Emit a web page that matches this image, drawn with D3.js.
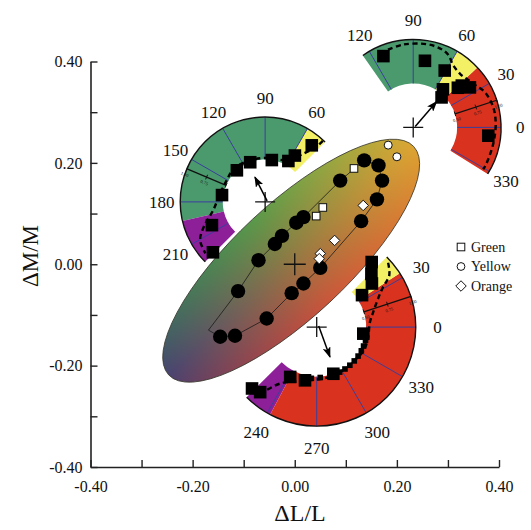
<!DOCTYPE html>
<html>
<head>
<meta charset="utf-8">
<script src="https://cdn.jsdelivr.net/npm/d3@7"></script>
<style>
  body { margin: 0; background: #fff; }
  svg { display: block; }
  text { font-family: "Liberation Serif", "DejaVu Serif", serif; fill: #111; }
</style>
</head>
<body>
<svg id="chart" width="531" height="530"></svg>
<script>
// ---------- axes ----------
const axisTicks  = [-0.4, -0.3, -0.2, -0.1, 0, 0.1, 0.2, 0.3, 0.4];
const axisLabels = ["-0.40", "", "-0.20", "", "0.00", "", "0.20", "", "0.40"];

// ---------- colour-space ellipse (ΔL/L, ΔM/M units) ----------
const ellipseCenter = [-0.007, 0.007];
const ellipseAxes   = [0.328, 0.111];
const ellipseTilt   = 43;   // degrees

// ---------- matches inside the ellipse ----------
// black discs, listed in the order the contour passes through them
const discL = [-0.146, -0.117, -0.055, -0.006, 0.017, 0.050, 0.130, 0.161, 0.171, 0.164, 0.136, 0.089, 0.017, 0.003, -0.025, -0.039, -0.071, -0.111];
const discM = [-0.143, -0.141, -0.107, -0.057, -0.038, -0.007, 0.085, 0.128, 0.165, 0.195, 0.205, 0.165, 0.093, 0.082, 0.056, 0.040, 0.008, -0.053];
const contourCorner = [-0.169, -0.130];

const greenL  = [0.116, 0.055, 0.042];
const greenM  = [0.189, 0.112, 0.095];
const yellowL = [0.183, 0.200];
const yellowM = [0.235, 0.212];
const orangeL = [0.134, 0.078, 0.050, 0.048];
const orangeM = [0.116, 0.047, 0.021, 0.011];

// ---------- hue wheels ----------
const wheelL      = [-0.058, 0.232, 0.043];
const wheelM      = [0.123, 0.270, -0.124];
const wheelRadius = [0.166, 0.172, 0.194];   // outer radius, ΔL/L units
const wheelFrom   = [45, -32, -135];         // hue angle, degrees
const wheelTo     = [225, 125, 45];
const wheelScaleBar = [157, 18, 18];
const wheelShiftL = [-0.020, 0.046, 0.026];
const wheelShiftM = [0.049, 0.051, -0.059];

// hue bands: wheel index, from, to, hue name
const bandWheel = [0, 0, 0, 1, 1, 1, 2, 2, 2];
const bandFrom  = [45, 60, 193, -32, 43, 60, -135, -118, 33];
const bandTo    = [60, 193, 225, 43, 60, 125, -118, 33, 45];
const bandHue   = ["yellow", "green", "purple", "red", "yellow", "green", "purple", "red", "yellow"];

// settings per wheel: hue angle (deg) and radius as a fraction of the outer radius
const settingAng = [
  [50.5, 57.3, 60.4, 80.9, 110.6, 131.8, 171, 203.6, 224],
  [112.7, 80, 61, 52, 46.6, 41.6, 40.7, 35.2, -6.3],
  [49.8, 44.2, 38.3, 35.2, -8, -70.4, -102.4, -118, -131, -136.5]
];
const settingRad = [
  [0.865, 0.65, 0.555, 0.50, 0.50, 0.50, 0.515, 0.685, 0.856],
  [0.88, 0.77, 0.74, 0.55, 0.47, 0.68, 0.73, 0.79, 0.86],
  [0.86, 0.77, 0.71, 0.56, 0.475, 0.50, 0.55, 0.57, 0.87, 0.90]
];
const smallLowerAng = [-15, -22, -28, -35, -42, -49, -56, -63, -74, -86, -96];
const smallLowerRad = [0.51, 0.51, 0.51, 0.51, 0.51, 0.51, 0.51, 0.51, 0.51, 0.51, 0.52];

// model curves per wheel
const modelAng = [
  [46.6, 47.2, 53.1, 62, 75, 87.8, 109.8, 133.5, 150.5, 169.4, 189, 202, 210.5, 220.7],
  [108, 96.8, 80.9, 71.4, 64.5, 57, 48, 40, 33.3, 26, 14, 2.4, -11.7, -26.5, -31],
  [42, 35.5, 31, 24.7, 14.8, 5.4, -12.7, -26.6, -41, -55.8, -78.7, -104, -123, -129.4]
];
const modelRad = [
  [0.99, 0.88, 0.69, 0.56, 0.52, 0.52, 0.52, 0.54, 0.52, 0.54, 0.62, 0.78, 0.89, 0.93],
  [0.93, 0.95, 0.96, 0.95, 0.92, 0.84, 0.81, 0.83, 0.86, 0.91, 0.94, 0.94, 0.93, 0.93, 0.93],
  [0.97, 0.90, 0.78, 0.68, 0.59, 0.54, 0.53, 0.53, 0.51, 0.51, 0.52, 0.56, 0.68, 0.85]
];
const scaleBarMarks = [0.5, 0.75, 1.0];

const legendNames = ["Green", "Yellow", "Orange"];

// ---------- drawing ----------
const svg = d3.select("#chart");
const x = d3.scaleLinear().domain([-0.4, 0.4]).range([90.5, 499]);
const y = d3.scaleLinear().domain([-0.4, 0.4]).range([467, 61.5]);
const pxPerUnit = x(1) - x(0);
const rad = d => d * Math.PI / 180;
const hueColor = d3.scaleOrdinal()
  .domain(["green", "yellow", "red", "purple"])
  .range(["#4a9a6e", "#f4f066", "#d9321f", "#8d1f98"]);

const defs = svg.append("defs");
defs.append("marker")
  .attr("id", "head").attr("markerUnits", "userSpaceOnUse")
  .attr("markerWidth", 11).attr("markerHeight", 8)
  .attr("refX", 10).attr("refY", 4).attr("orient", "auto")
  .append("path").attr("d", "M0,0 L11,4 L0,8 L2.5,4 z").attr("fill", "#000");

// axes
const fmt = d => axisLabels[axisTicks.findIndex(t => Math.abs(t - d) < 1e-9)];
const gx = svg.append("g").attr("transform", `translate(0,${y(-0.4)})`)
  .call(d3.axisBottom(x).tickValues(axisTicks).tickFormat(fmt)
    .tickSizeInner(-7).tickSizeOuter(0).tickPadding(14));
const gy = svg.append("g").attr("transform", `translate(${x(-0.4)},0)`)
  .call(d3.axisLeft(y).tickValues(axisTicks).tickFormat(fmt)
    .tickSizeInner(-7).tickSizeOuter(0).tickPadding(8));
[gx, gy].forEach(g => {
  g.selectAll("path.domain").attr("stroke", "#222").attr("stroke-width", 1.6);
  g.selectAll(".tick line").attr("stroke", "#222").attr("stroke-width", 1.4);
  g.selectAll(".tick text").style("font-family", '"Liberation Serif", serif')
    .style("font-size", "16px").attr("fill", "#111");
});

svg.append("text").attr("x", 300).attr("y", 521).attr("text-anchor", "middle")
  .style("font-size", "24px").text("ΔL/L");
svg.append("text").attr("transform", "translate(38,256) rotate(-90)")
  .attr("text-anchor", "middle").style("font-size", "23px").text("ΔM/M");

// ellipse with colour gradient
const ecx = x(ellipseCenter[0]), ecy = y(ellipseCenter[1]);
const erx = ellipseAxes[0] * pxPerUnit, ery = ellipseAxes[1] * pxPerUnit;
defs.append("clipPath").attr("id", "ellClip").append("ellipse")
  .attr("cx", ecx).attr("cy", ecy).attr("rx", erx).attr("ry", ery)
  .attr("transform", `rotate(${-ellipseTilt},${ecx},${ecy})`);

const grid = [
  ["#2d6a62", "#4a4470", "#7c3356"],
  ["#58994a", "#927844", "#cc553a"],
  ["#b8b83c", "#dca432", "#e8842e"]
].map(r => r.map(c => d3.rgb(c)));
function shade(u, v) {
  const fu = (Math.max(-1, Math.min(1, u)) + 1), fv = (Math.max(-1, Math.min(1, v)) + 1);
  const i = Math.min(1, Math.floor(fu)), j = Math.min(1, Math.floor(fv));
  const tu = fu - i, tv = fv - j;
  const mix = k => (grid[i][j][k] * (1 - tu) + grid[i + 1][j][k] * tu) * (1 - tv) +
                   (grid[i][j + 1][k] * (1 - tu) + grid[i + 1][j + 1][k] * tu) * tv;
  return [mix("r"), mix("g"), mix("b")];
}
const bx0 = Math.floor(ecx - erx), by0 = Math.floor(ecy - erx);
const bw = Math.ceil(2 * erx), bh = Math.ceil(2 * erx);
const canvas = document.createElement("canvas");
canvas.width = bw; canvas.height = bh;
const ctx = canvas.getContext("2d");
const img = ctx.createImageData(bw, bh);
const ct = Math.cos(rad(ellipseTilt)), st = Math.sin(rad(ellipseTilt));
for (let py = 0; py < bh; py++) {
  for (let px = 0; px < bw; px++) {
    const dx = bx0 + px + 0.5 - ecx, dy = by0 + py + 0.5 - ecy;
    const u = (dx * ct - dy * st) / erx;
    const v = (dx * st + dy * ct) / ery;
    const c = shade(u, v);
    const k = (py * bw + px) * 4;
    img.data[k] = c[0]; img.data[k + 1] = c[1]; img.data[k + 2] = c[2]; img.data[k + 3] = 255;
  }
}
ctx.putImageData(img, 0, 0);
svg.append("image").attr("href", canvas.toDataURL())
  .attr("x", bx0).attr("y", by0).attr("width", bw).attr("height", bh)
  .attr("clip-path", "url(#ellClip)");
svg.append("ellipse").attr("cx", ecx).attr("cy", ecy).attr("rx", erx).attr("ry", ery)
  .attr("transform", `rotate(${-ellipseTilt},${ecx},${ecy})`)
  .attr("fill", "none").attr("stroke", "#3a3a30").attr("stroke-width", 0.8);

// crosses
function cross(g, cx, cy, h) {
  g.append("path").attr("d", `M${cx - h},${cy}H${cx + h}M${cx},${cy - h}V${cy + h}`)
    .attr("stroke", "#111").attr("stroke-width", 1.3).attr("fill", "none");
}

// wheels
wheelL.forEach((wl, w) => {
  const cx = x(wl), cy = y(wheelM[w]);
  const R = wheelRadius[w] * pxPerUnit;
  const pt = (a, f) => [cx + f * R * Math.cos(rad(a)), cy - f * R * Math.sin(rad(a))];
  const g = svg.append("g");

  // hue bands
  const arc = d3.arc().innerRadius(0.5 * R).outerRadius(R);
  bandWheel.forEach((bw2, b) => {
    if (bw2 !== w) return;
    g.append("path")
      .attr("transform", `translate(${cx},${cy})`)
      .attr("d", arc({ startAngle: rad(90 - bandTo[b]), endAngle: rad(90 - bandFrom[b]) }))
      .attr("fill", hueColor(bandHue[b]));
  });
  // 30° dividers
  for (let a = Math.ceil(wheelFrom[w] / 30) * 30; a <= wheelTo[w]; a += 30) {
    if (a <= wheelFrom[w] || a >= wheelTo[w]) continue;
    const p0 = pt(a, 0.5), p1 = pt(a, 1);
    g.append("line").attr("x1", p0[0]).attr("y1", p0[1]).attr("x2", p1[0]).attr("y2", p1[1])
      .attr("stroke", "#3b3f9c").attr("stroke-width", 1);
  }
  // outer rim
  g.append("path").attr("transform", `translate(${cx},${cy})`)
    .attr("d", d3.arc()({ innerRadius: R, outerRadius: R, startAngle: rad(90 - wheelTo[w]), endAngle: rad(90 - wheelFrom[w]) }))
    .attr("fill", "none").attr("stroke", "#111").attr("stroke-width", 1.4);

  // radial scale bar
  const sa = wheelScaleBar[w];
  const s0 = pt(sa, 0.5), s1 = pt(sa, 1);
  g.append("line").attr("x1", s0[0]).attr("y1", s0[1]).attr("x2", s1[0]).attr("y2", s1[1])
    .attr("stroke", "#111").attr("stroke-width", 1.3);
  const side = sa > 90 ? 1 : -1;
  const nx = Math.cos(rad(sa + 90 * side)), ny = -Math.sin(rad(sa + 90 * side));
  scaleBarMarks.forEach(m => {
    const p = pt(sa, m);
    g.append("line").attr("x1", p[0] - 2.5 * nx).attr("y1", p[1] - 2.5 * ny)
      .attr("x2", p[0] + 2.5 * nx).attr("y2", p[1] + 2.5 * ny)
      .attr("stroke", "#111").attr("stroke-width", 1);
    const rot = sa > 90 ? 180 - sa : -sa;
    g.append("text").attr("x", p[0] + 6 * nx).attr("y", p[1] + 6 * ny)
      .attr("transform", `rotate(${rot},${p[0] + 6 * nx},${p[1] + 6 * ny})`)
      .attr("text-anchor", "middle").attr("dy", "0.35em")
      .style("font-size", "4.5px").attr("fill", "#333").text(m.toFixed(2));
  });

  // hue labels
  for (let a = Math.ceil(wheelFrom[w] / 30) * 30; a <= wheelTo[w]; a += 30) {
    const p = pt(a, 1.22);
    g.append("text").attr("x", p[0]).attr("y", p[1]).attr("dy", "0.35em")
      .attr("text-anchor", "middle").style("font-size", "17px")
      .text(((a % 360) + 360) % 360);
  }

  // model curve
  const model = modelAng[w].map((a, i) => pt(a, modelRad[w][i]));
  g.append("path").attr("d", d3.line().curve(d3.curveCatmullRom)(model))
    .attr("fill", "none").attr("stroke", "#000").attr("stroke-width", 2.4)
    .attr("stroke-dasharray", "5,3.5");

  // small settings on the lower wheel
  if (w === 2) {
    smallLowerAng.forEach((a, i) => {
      const p = pt(a, smallLowerRad[i]);
      g.append("rect").attr("x", p[0] - 2.8).attr("y", p[1] - 2.8)
        .attr("width", 5.6).attr("height", 5.6).attr("fill", "#000");
    });
  }
  // settings
  settingAng[w].forEach((a, i) => {
    const p = pt(a, settingRad[w][i]);
    g.append("rect").attr("x", p[0] - 6.3).attr("y", p[1] - 6.3)
      .attr("width", 12.6).attr("height", 12.6).attr("fill", "#000");
  });

  // centre cross and shift arrow
  cross(g, cx, cy, 10);
  g.append("line").attr("x1", cx + 2).attr("y1", cy - 1)
    .attr("x2", x(wl + wheelShiftL[w])).attr("y2", y(wheelM[w] + wheelShiftM[w]))
    .attr("stroke", "#000").attr("stroke-width", 1.5).attr("marker-end", "url(#head)");
});

// contour through the black discs
const contour = discL.map((l, i) => [x(l), y(discM[i])]);
contour.push([x(contourCorner[0]), y(contourCorner[1])]);
svg.append("path").attr("d", d3.line().curve(d3.curveLinearClosed)(contour))
  .attr("fill", "none").attr("stroke", "#1a1a1a").attr("stroke-width", 0.8);
cross(svg, x(0), y(0), 11);

svg.append("g").selectAll("circle").data(discL).join("circle")
  .attr("cx", d => x(d)).attr("cy", (d, i) => y(discM[i])).attr("r", 7.2).attr("fill", "#000");

const open = svg.append("g").attr("fill", "#fff").attr("stroke", "#111").attr("stroke-width", 1);
greenL.forEach((l, i) => open.append("rect")
  .attr("x", x(l) - 3.8).attr("y", y(greenM[i]) - 3.8).attr("width", 7.6).attr("height", 7.6));
yellowL.forEach((l, i) => open.append("circle")
  .attr("cx", x(l)).attr("cy", y(yellowM[i])).attr("r", 4));
orangeL.forEach((l, i) => open.append("path")
  .attr("d", d3.symbol(d3.symbolDiamond2, 70)())
  .attr("transform", `translate(${x(l)},${y(orangeM[i])})`));

// legend
const leg = svg.append("g").attr("transform", "translate(461,247)");
legendNames.forEach((name, i) => {
  const row = leg.append("g").attr("transform", `translate(0,${i * 19.5})`);
  const m = row.append("g").attr("fill", "#fff").attr("stroke", "#111").attr("stroke-width", 1);
  if (i === 0) m.append("rect").attr("x", -3.8).attr("y", -3.8).attr("width", 7.6).attr("height", 7.6);
  if (i === 1) m.append("circle").attr("r", 3.9);
  if (i === 2) m.append("path").attr("d", d3.symbol(d3.symbolDiamond2, 70)());
  row.append("text").attr("x", 10).attr("dy", "0.35em").style("font-size", "14px").text(name);
});
</script>
</body>
</html>
